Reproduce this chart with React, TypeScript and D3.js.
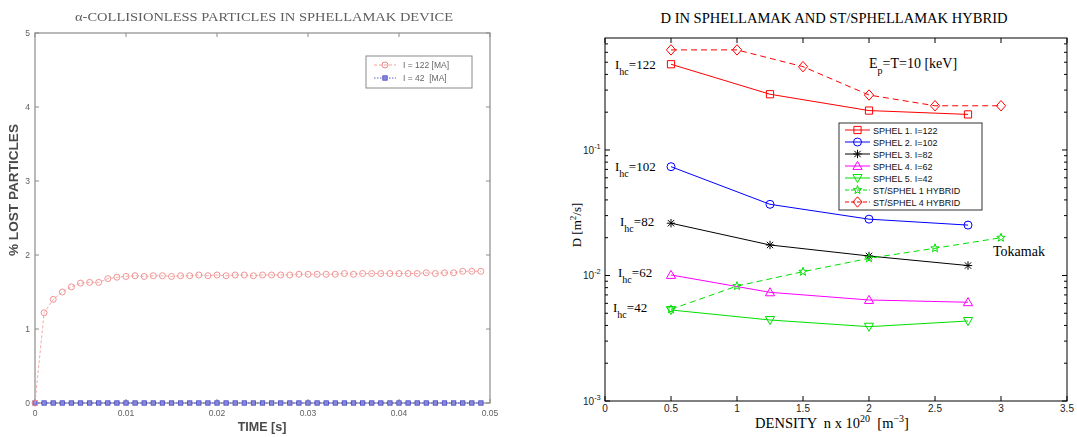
import React from 'react';
import * as d3 from 'd3';

// ---------- LEFT CHART DATA ----------
const timeS = [
  0, 0.001, 0.002, 0.003, 0.004, 0.005, 0.006, 0.007, 0.008, 0.009,
  0.010, 0.011, 0.012, 0.013, 0.014, 0.015, 0.016, 0.017, 0.018, 0.019,
  0.020, 0.021, 0.022, 0.023, 0.024, 0.025, 0.026, 0.027, 0.028, 0.029,
  0.030, 0.031, 0.032, 0.033, 0.034, 0.035, 0.036, 0.037, 0.038, 0.039,
  0.040, 0.041, 0.042, 0.043, 0.044, 0.045, 0.046, 0.047, 0.048, 0.049,
];
const lostI122 = [
  0, 1.22, 1.4, 1.5, 1.57, 1.62, 1.63, 1.63, 1.68, 1.7,
  1.71, 1.72, 1.71, 1.72, 1.72, 1.71, 1.72, 1.72, 1.73, 1.72,
  1.73, 1.72, 1.73, 1.73, 1.72, 1.73, 1.73, 1.73, 1.73, 1.74,
  1.74, 1.74, 1.74, 1.74, 1.75, 1.74, 1.75, 1.75, 1.75, 1.75,
  1.75, 1.75, 1.75, 1.76, 1.75, 1.76, 1.76, 1.78, 1.78, 1.78,
];
const lostI42 = [
  0, 0, 0, 0, 0, 0, 0, 0, 0, 0,
  0, 0, 0, 0, 0, 0, 0, 0, 0, 0,
  0, 0, 0, 0, 0, 0, 0, 0, 0, 0,
  0, 0, 0, 0, 0, 0, 0, 0, 0, 0,
  0, 0, 0, 0, 0, 0, 0, 0, 0, 0,
];
const leftXTicks = [0, 0.01, 0.02, 0.03, 0.04, 0.05];
const leftXTickLabels = ['0', '0.01', '0.02', '0.03', '0.04', '0.05'];
const leftYTicks = [0, 1, 2, 3, 4, 5];
const leftLegend = ['I = 122 [MA]', 'I = 42  [MA]'];

// ---------- RIGHT CHART DATA ----------
const densitySphel = [0.5, 1.25, 2, 2.75];
const densityHybrid = [0.5, 1, 1.5, 2, 2.5, 3];
const sphel1 = [0.482, 0.278, 0.206, 0.192];
const sphel2 = [0.0736, 0.0369, 0.0281, 0.0252];
const sphel3 = [0.0261, 0.0175, 0.0143, 0.012];
const sphel4 = [0.0101, 0.00734, 0.00638, 0.00612];
const sphel5 = [0.00531, 0.00442, 0.00391, 0.00434];
const hybrid1 = [0.00538, 0.00824, 0.01072, 0.01371, 0.01648, 0.02];
const hybrid4 = [0.627, 0.627, 0.461, 0.274, 0.225, 0.225];
const rightXTicks = [0, 0.5, 1, 1.5, 2, 2.5, 3, 3.5];
const rightXTickLabels = ['0', '0.5', '1', '1.5', '2', '2.5', '3', '3.5'];
const rightYMajor = [1e-3, 1e-2, 1e-1];
const rightYMajorExp = ['-3', '-2', '-1'];
const legendNames = [
  'SPHEL 1. I=122',
  'SPHEL 2. I=102',
  'SPHEL 3. I=82',
  'SPHEL 4. I=62',
  'SPHEL 5. I=42',
  'ST/SPHEL 1 HYBRID',
  'ST/SPHEL 4 HYBRID',
];
const ihcLabels = ['122', '102', '82', '62', '42'];

const SERIF = '"Liberation Serif", "Times New Roman", serif';
const SANS = '"Liberation Sans", Arial, Helvetica, sans-serif';

type Shape = 'square' | 'circle' | 'asterisk' | 'triUp' | 'triDown' | 'star' | 'diamond';

function markerPath(shape: Shape, x: number, y: number): string {
  switch (shape) {
    case 'square': {
      const h = 3.6;
      return `M${x - h},${y - h}H${x + h}V${y + h}H${x - h}Z`;
    }
    case 'circle': {
      const r = 4;
      return `M${x - r},${y}A${r},${r} 0 1,0 ${x + r},${y}A${r},${r} 0 1,0 ${x - r},${y}Z`;
    }
    case 'asterisk': {
      const h = 4.2;
      const d = 3.2;
      return `M${x - h},${y}H${x + h}M${x},${y - h}V${y + h}M${x - d},${y - d}L${x + d},${y + d}M${x - d},${y + d}L${x + d},${y - d}`;
    }
    case 'triUp': {
      const h = 4.6;
      return `M${x},${y - h}L${x + h},${y + h * 0.75}L${x - h},${y + h * 0.75}Z`;
    }
    case 'triDown': {
      const h = 4.6;
      return `M${x},${y + h}L${x + h},${y - h * 0.75}L${x - h},${y - h * 0.75}Z`;
    }
    case 'diamond': {
      const w = 4.6;
      const hh = 5.2;
      return `M${x},${y - hh}L${x + w},${y}L${x},${y + hh}L${x - w},${y}Z`;
    }
    case 'star': {
      const ro = 4.4;
      const ri = 1.8;
      let p = '';
      for (let i = 0; i < 10; i++) {
        const r = i % 2 === 0 ? ro : ri;
        const a = -Math.PI / 2 + (i * Math.PI) / 5;
        p += (i === 0 ? 'M' : 'L') + (x + r * Math.cos(a)).toFixed(2) + ',' + (y + r * Math.sin(a)).toFixed(2);
      }
      return p + 'Z';
    }
  }
  return '';
}

export default function App() {
  // Left chart scales
  const lx = d3.scaleLinear().domain([0, 0.05]).range([35, 490]);
  const ly = d3.scaleLinear().domain([0, 5]).range([403, 33]);
  const lline = d3
    .line<number>()
    .x((_, i) => lx(timeS[i]))
    .y((d) => ly(d));

  // Right chart scales
  const rx = d3.scaleLinear().domain([0, 3.5]).range([605, 1067]);
  const ry = d3.scaleLog().domain([1e-3, 0.78]).range([401, 38]);
  const [rL, rR] = rx.range();
  const [rB, rT] = ry.range();

  const minorVals: number[] = [];
  [1e-3, 1e-2, 1e-1].forEach((dec) => {
    for (let k = 2; k <= 9; k++) {
      const v = dec * k;
      if (v <= 0.78) minorVals.push(v);
    }
  });

  const series: { xs: number[]; ys: number[]; color: string; shape: Shape; dash?: string }[] = [
    { xs: densitySphel, ys: sphel1, color: '#ff0000', shape: 'square' },
    { xs: densitySphel, ys: sphel2, color: '#0000ff', shape: 'circle' },
    { xs: densitySphel, ys: sphel3, color: '#000000', shape: 'asterisk' },
    { xs: densitySphel, ys: sphel4, color: '#ff00ff', shape: 'triUp' },
    { xs: densitySphel, ys: sphel5, color: '#00e000', shape: 'triDown' },
    { xs: densityHybrid, ys: hybrid1, color: '#00e000', shape: 'star', dash: '6,4' },
    { xs: densityHybrid, ys: hybrid4, color: '#ff0000', shape: 'diamond', dash: '6,4' },
  ];

  const ihcPos = [
    { x: 615, y: 69 },
    { x: 615, y: 171 },
    { x: 620, y: 226 },
    { x: 618, y: 277 },
    { x: 613, y: 312 },
  ];

  const leftAxisColor = '#8c8c8c';
  const leftText = '#5e5e5e';

  return (
    <svg
      width={1077}
      height={437}
      style={{ position: 'absolute', left: 0, top: 0, background: '#fff' }}
    >
      <defs>
        <filter id="soft" x="-5%" y="-5%" width="110%" height="110%">
          <feGaussianBlur stdDeviation="0.6" />
        </filter>
      </defs>
      <rect x={0} y={0} width={1077} height={437} fill="#fff" />

      {/* ================= LEFT CHART ================= */}
      <g filter="url(#soft)">
        <text
          x={264}
          y={21}
          textAnchor="middle"
          fontFamily={SERIF}
          fontSize={13}
          fill={leftText}
          textLength={378}
          lengthAdjust="spacingAndGlyphs"
        >
          α-COLLISIONLESS PARTICLES IN SPHELLAMAK DEVICE
        </text>
        <rect x={35} y={33} width={455} height={370} fill="none" stroke={leftAxisColor} strokeWidth={1.2} />
        {leftXTicks.map((t, i) => (
          <g key={'lxt' + i}>
            <line x1={lx(t)} x2={lx(t)} y1={403} y2={399} stroke={leftAxisColor} />
            <line x1={lx(t)} x2={lx(t)} y1={33} y2={37} stroke={leftAxisColor} />
            <text x={lx(t)} y={416} textAnchor="middle" fontFamily={SANS} fontSize={8.5} fill={leftText}>
              {leftXTickLabels[i]}
            </text>
          </g>
        ))}
        {leftYTicks.map((t, i) => (
          <g key={'lyt' + i}>
            <line x1={35} x2={39} y1={ly(t)} y2={ly(t)} stroke={leftAxisColor} />
            <line x1={490} x2={486} y1={ly(t)} y2={ly(t)} stroke={leftAxisColor} />
            <text x={30} y={ly(t) + 3} textAnchor="end" fontFamily={SANS} fontSize={8.5} fill={leftText}>
              {t}
            </text>
          </g>
        ))}
        <text
          transform="translate(18,190) rotate(-90)"
          textAnchor="middle"
          fontFamily={SANS}
          fontWeight="bold"
          fontSize={12}
          fill="#4a4a4a"
          textLength={132}
          lengthAdjust="spacingAndGlyphs"
        >
          % LOST PARTICLES
        </text>
        <text x={262} y={431} textAnchor="middle" fontFamily={SANS} fontWeight="bold" fontSize={12.5} fill="#4a4a4a">
          TIME [s]
        </text>

        {/* series I=42 (blue squares, dotted) */}
        <path d={lline(lostI42) || ''} fill="none" stroke="#5f5fd0" strokeWidth={1} strokeDasharray="1.5,1.5" />
        {lostI42.map((v, i) => (
          <rect
            key={'b' + i}
            x={lx(timeS[i]) - 2.2}
            y={ly(v) - 2.2}
            width={4.4}
            height={4.4}
            fill="#8888dd"
            stroke="#4848c0"
            strokeWidth={0.8}
          />
        ))}
        {/* series I=122 (red circles, dashed) */}
        <path d={lline(lostI122) || ''} fill="none" stroke="#f3a0a0" strokeWidth={0.9} strokeDasharray="3,2" />
        {lostI122.map((v, i) => (
          <circle key={'r' + i} cx={lx(timeS[i])} cy={ly(v)} r={3} fill="none" stroke="#f08888" strokeWidth={0.9} />
        ))}

        {/* legend */}
        <rect x={366} y={56} width={106} height={32} fill="#fff" stroke="#8a8a8a" strokeWidth={1} />
        <line x1={374} x2={396} y1={65} y2={65} stroke="#f3a0a0" strokeDasharray="3,2" />
        <circle cx={385} cy={65} r={3} fill="none" stroke="#f08888" />
        <text x={403} y={68} fontFamily={SANS} fontSize={8.5} fill="#666">
          {leftLegend[0]}
        </text>
        <line x1={374} x2={396} y1={78} y2={78} stroke="#5f5fd0" strokeDasharray="1.5,1.5" />
        <rect x={382.8} y={75.8} width={4.4} height={4.4} fill="#8888dd" stroke="#4848c0" strokeWidth={0.8} />
        <text x={403} y={81} fontFamily={SANS} fontSize={8.5} fill="#666" style={{ whiteSpace: 'pre' }}>
          {leftLegend[1]}
        </text>
      </g>

      {/* ================= RIGHT CHART ================= */}
      <g>
        <text
          x={834}
          y={23}
          textAnchor="middle"
          fontFamily={SERIF}
          fontSize={14}
          fill="#000"
          textLength={347}
          lengthAdjust="spacingAndGlyphs"
        >
          D IN SPHELLAMAK AND ST/SPHELLAMAK HYBRID
        </text>
        <rect x={rL} y={rT} width={rR - rL} height={rB - rT} fill="none" stroke="#000" strokeWidth={1} />
        {rightXTicks.map((t, i) => (
          <g key={'rxt' + i}>
            <line x1={rx(t)} x2={rx(t)} y1={rB} y2={rB - 5} stroke="#000" />
            <line x1={rx(t)} x2={rx(t)} y1={rT} y2={rT + 5} stroke="#000" />
            <text x={rx(t)} y={412} textAnchor="middle" fontFamily={SANS} fontSize={10} fill="#222">
              {rightXTickLabels[i]}
            </text>
          </g>
        ))}
        {rightYMajor.map((v, i) => (
          <g key={'rym' + i}>
            <line x1={rL} x2={rL + 5} y1={ry(v)} y2={ry(v)} stroke="#000" />
            <line x1={rR} x2={rR - 5} y1={ry(v)} y2={ry(v)} stroke="#000" />
            <text x={583} y={ry(v) + 4} fontFamily={SANS} fontSize={10} fill="#222">
              10
              <tspan dy={-5} fontSize={7.5}>
                {rightYMajorExp[i]}
              </tspan>
            </text>
          </g>
        ))}
        {minorVals.map((v, i) => (
          <g key={'rymin' + i}>
            <line x1={rL} x2={rL + 3} y1={ry(v)} y2={ry(v)} stroke="#000" />
            <line x1={rR} x2={rR - 3} y1={ry(v)} y2={ry(v)} stroke="#000" />
          </g>
        ))}
        <text transform="translate(581,225) rotate(-90)" textAnchor="middle" fontFamily={SERIF} fontSize={13} fill="#000">
          D  [m
          <tspan dy={-5} fontSize={9}>
            2
          </tspan>
          <tspan dy={5}>/s]</tspan>
        </text>
        <text x={832} y={428} textAnchor="middle" fontFamily={SERIF} fontSize={14.5} fill="#000" style={{ whiteSpace: 'pre' }}>
          {'DENSITY  n x 10'}
          <tspan dy={-6} fontSize={10}>
            20
          </tspan>
          <tspan dy={6}>{'  [m'}</tspan>
          <tspan dy={-6} fontSize={10}>
            −3
          </tspan>
          <tspan dy={6}>]</tspan>
        </text>

        {/* series */}
        {series.map((s, si) => {
          const line = d3
            .line<number>()
            .x((_, i) => rx(s.xs[i]))
            .y((d) => ry(d));
          return (
            <g key={'s' + si}>
              <path d={line(s.ys) || ''} fill="none" stroke={s.color} strokeWidth={1} strokeDasharray={s.dash} />
              {s.ys.map((v, i) => (
                <path
                  key={'m' + i}
                  d={markerPath(s.shape, rx(s.xs[i]), ry(v))}
                  fill="none"
                  stroke={s.color}
                  strokeWidth={1}
                />
              ))}
            </g>
          );
        })}

        {/* annotations */}
        {ihcLabels.map((lab, i) => (
          <text key={'ihc' + i} x={ihcPos[i].x} y={ihcPos[i].y} fontFamily={SERIF} fontSize={13} fill="#000">
            I
            <tspan dy={6} fontSize={10}>
              hc
            </tspan>
            <tspan dy={-6}>={lab}</tspan>
          </text>
        ))}
        <text x={869} y={68} fontFamily={SERIF} fontSize={14} fill="#000">
          E
          <tspan dy={6} fontSize={10}>
            p
          </tspan>
          <tspan dy={-6}>=T=10 [keV]</tspan>
        </text>
        <text x={993} y={256} fontFamily={SERIF} fontSize={14} fill="#000">
          Tokamak
        </text>

        {/* legend */}
        <rect x={839} y={123} width={143} height={87} fill="#fff" stroke="#333" strokeWidth={1} />
        {series.map((s, i) => {
          const yy = 130 + i * 12;
          return (
            <g key={'lg' + i}>
              <line x1={845} x2={870} y1={yy} y2={yy} stroke={s.color} strokeWidth={1} strokeDasharray={s.dash ? '4,2' : undefined} />
              <path d={markerPath(s.shape, 857.5, yy)} fill="none" stroke={s.color} strokeWidth={1} />
              <text x={873} y={yy + 3.5} fontFamily={SANS} fontSize={9} fill="#111">
                {legendNames[i]}
              </text>
            </g>
          );
        })}
      </g>
    </svg>
  );
}
